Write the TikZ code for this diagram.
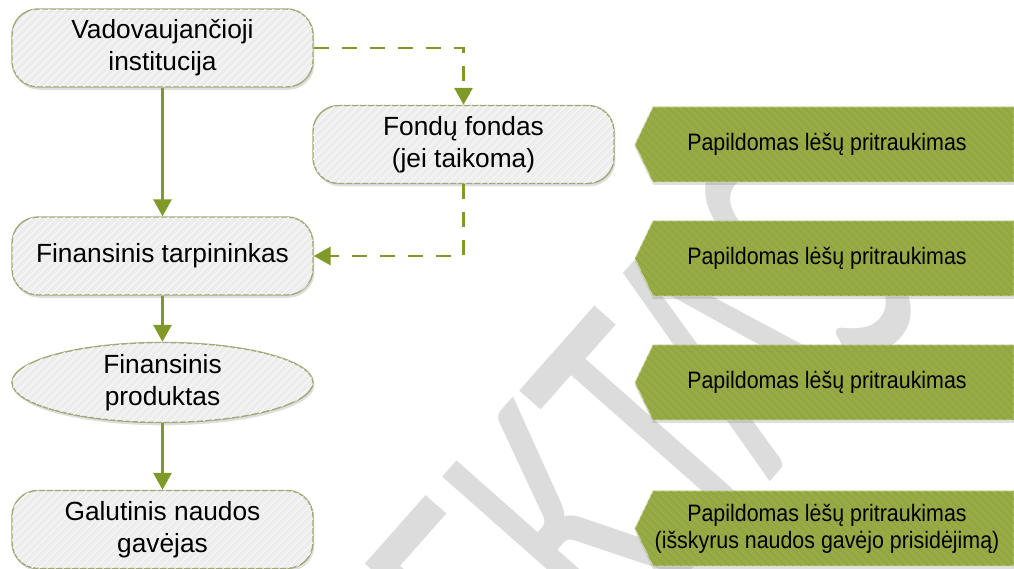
\documentclass[tikz,border=0pt]{standalone}
\usepackage{fontspec}
\usepackage{xcolor}
\usetikzlibrary{arrows.meta,shapes.geometric,shadows,patterns.meta}
\setmainfont{Liberation Sans}
\newfontfamily\narrowfont{Liberation Sans}[FakeStretch=0.9]
\newfontfamily\wmfont{Carlito}
\definecolor{boxline}{RGB}{163,168,120}
\definecolor{boxfill}{RGB}{237,237,237}
\definecolor{boxstripe}{RGB}{248,248,248}
\definecolor{linegreen}{RGB}{128,154,40}
\definecolor{arrowgreen}{RGB}{150,170,70}
\definecolor{arrowstripe}{RGB}{141,161,62}
\definecolor{arrowedge}{RGB}{205,215,160}
\definecolor{wmgray}{RGB}{220,220,220}

\begin{document}
\begin{tikzpicture}[x=0.025cm,y=-0.025cm,
    stage/.style={draw=boxline,line width=1pt,fill=boxfill,
      postaction={pattern={Lines[angle=45,distance=4pt,line width=0.8pt]},pattern color=boxstripe},
      drop shadow={opacity=0.25,shadow xshift=1pt,shadow yshift=-2pt},
      minimum width=7.525cm,inner sep=0pt,align=center,
      font=\fontsize{18.7}{22.8}\selectfont},
    box/.style={stage,rounded corners=0.65cm,minimum height=1.95cm},
    oval/.style={stage,ellipse,minimum height=1.975cm},
    flow/.style={linegreen,line width=1.8pt,-{Triangle[width=0.45cm,length=0.42cm]}},
    optflow/.style={flow,dash pattern=on 10.7pt off 9.2pt},
    extra/.style={draw=arrowedge,line width=0.6pt,fill=arrowgreen,
      postaction={pattern={Lines[angle=-45,distance=4pt,line width=0.6pt]},pattern color=arrowstripe},
      drop shadow={opacity=0.25,shadow xshift=0pt,shadow yshift=-2pt}},
    extratext/.style={align=center,inner sep=0pt,
      font=\narrowfont\fontsize{16.9}{19.2}\selectfont},
    wmark/.style={anchor=base,rotate=48.5,yscale=1.58,text=wmgray,inner sep=0pt,
      font=\wmfont\fontsize{174}{174}\selectfont}]
  \fill[white] (0,0) rectangle (1014,569);
  \useasboundingbox (0,0) rectangle (1014,569);
  \begin{scope}
    \clip (0,0) rectangle (1014,569);
    \node[wmark] (draft) at (575,702) {PROJEKTAS};
  \end{scope}
  \node[box] (inst) at (162.5,48) {Vadovaujančioji\\institucija};
  \node[box] (fond) at (463.5,144.5) {Fondų fondas\\(jei taikoma)};
  \node[box] (tarp) at (162.5,256) {Finansinis tarpininkas};
  \node[oval] (prod) at (162.5,382.5) {Finansinis\\produktas};
  \node[box] (gav) at (162.5,529.5) {Galutinis naudos\\gavėjas};
  \draw[flow] (inst) -- (tarp);
  \draw[flow] (tarp) -- (prod);
  \draw[flow] (prod) -- (gav);
  \draw[optflow] (inst.east) -| (fond.north);
  \draw[optflow] (fond.south) |- (tarp.east);
  \foreach \y/\txt [count=\i] in {144.5/Papildomas lėšų pritraukimas,
      258.5/Papildomas lėšų pritraukimas, 382.5/Papildomas lėšų pritraukimas,
      528.5/{Papildomas lėšų pritraukimas\\(išskyrus naudos gavėjo prisidėjimą)}}
  {
    \draw[extra] (635,\y) -- (653,\y-37.5) -- (1014,\y-37.5) -- (1014,\y+37.5)
      -- (653,\y+37.5) -- cycle;
    \node[extratext] (pap\i) at (827,\y) {\txt};
  }
\end{tikzpicture}
\end{document}
